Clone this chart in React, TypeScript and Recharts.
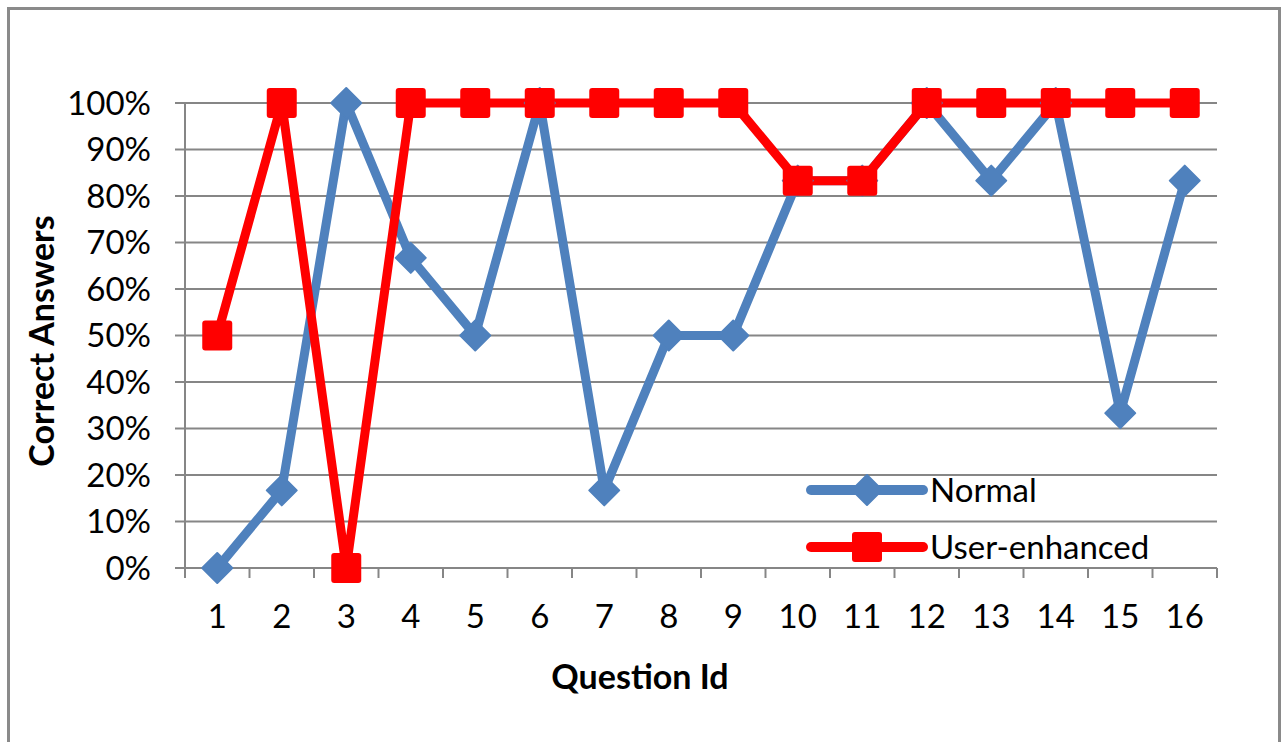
import { CartesianGrid, Legend, Line, LineChart, XAxis, YAxis } from 'recharts';

const CATEGORIES = ['1', '2', '3', '4', '5', '6', '7', '8', '9', '10', '11', '12', '13', '14', '15', '16'];
const NORMAL = [0, 16.7, 100, 66.7, 50, 100, 16.7, 50, 50, 83.3, 83.3, 100, 83.3, 100, 33.3, 83.3];
const USER_ENHANCED = [50, 100, 0, 100, 100, 100, 100, 100, 100, 83.3, 83.3, 100, 100, 100, 100, 100];
const Y_TICKS = [0, 10, 20, 30, 40, 50, 60, 70, 80, 90, 100];

const data = CATEGORIES.map((question, i) => ({
  question,
  normal: NORMAL[i],
  enhanced: USER_ENHANCED[i],
}));

const WIDTH = 1281;
const HEIGHT = 742;
const PLOT_LEFT = 185;
const PLOT_RIGHT = 1217;
const PLOT_TOP = 103;
const PLOT_BOTTOM = 568;
const Y_AXIS_W = 150;
const X_AXIS_H = 100;
const BAND = (PLOT_RIGHT - PLOT_LEFT) / CATEGORIES.length;

const BLUE = '#4F81BD';
const RED = '#FF0000';
const GRID = '#868686';
const FONT = 'Lato, sans-serif';
const TICK_SIZE = 33;
const TITLE_SIZE = 34;

function Diamond({ cx, cy, size = 15, fill = BLUE }: any) {
  if (cx == null || cy == null) return null;
  return (
    <path
      d={`M${cx},${cy - size} L${cx + size},${cy} L${cx},${cy + size} L${cx - size},${cy} Z`}
      fill={fill}
      stroke={fill}
      strokeWidth={2}
      strokeLinejoin="round"
    />
  );
}

function Square({ cx, cy, size = 15, fill = RED }: any) {
  if (cx == null || cy == null) return null;
  return <rect x={cx - size} y={cy - size} width={size * 2} height={size * 2} rx={3} fill={fill} />;
}

// category labels sit in the middle of each band, tick marks on the band edges
function QuestionTick({ x, payload, index }: any) {
  const left = x - BAND / 2;
  return (
    <g>
      <line x1={left} x2={left} y1={PLOT_BOTTOM} y2={PLOT_BOTTOM + 10} stroke={GRID} strokeWidth={2} />
      {index === CATEGORIES.length - 1 && (
        <line x1={x + BAND / 2} x2={x + BAND / 2} y1={PLOT_BOTTOM} y2={PLOT_BOTTOM + 10} stroke={GRID} strokeWidth={2} />
      )}
      <text x={x} y={628} textAnchor="middle" fill="#000" fontSize={TICK_SIZE} fontFamily={FONT}>
        {payload.value}
      </text>
    </g>
  );
}

function LegendBox() {
  const rows = [
    { name: 'Normal', color: BLUE, marker: <Diamond cx={67} cy={30} /> },
    { name: 'User-enhanced', color: RED, marker: <Square cx={67} cy={87} /> },
  ];
  return (
    <svg width={420} height={120} style={{ display: 'block' }}>
      {rows.map((r, i) => {
        const y = 30 + i * 57;
        return (
          <g key={r.name}>
            <line x1={11} x2={123} y1={y} y2={y} stroke={r.color} strokeWidth={10} strokeLinecap="round" />
            {r.marker}
            <text x={130} y={y + 12} fill="#000" fontSize={TICK_SIZE} fontFamily={FONT}>
              {r.name}
            </text>
          </g>
        );
      })}
    </svg>
  );
}

export default function App() {
  return (
    <div style={{ position: 'absolute', left: 0, top: 0, width: WIDTH, height: HEIGHT, overflow: 'hidden', background: '#fff' }}>
      <div
        style={{
          position: 'absolute',
          left: 7,
          top: 7,
          width: 1274,
          height: 800,
          border: '3px solid #8a8a8a',
          boxSizing: 'border-box',
        }}
      />
      <div style={{ position: 'absolute', left: 0, top: 0 }}>
        <LineChart
          width={WIDTH}
          height={HEIGHT}
          data={data}
          margin={{
            top: PLOT_TOP,
            right: WIDTH - PLOT_RIGHT,
            bottom: HEIGHT - PLOT_BOTTOM - X_AXIS_H,
            left: PLOT_LEFT - Y_AXIS_W,
          }}
          style={{ fontFamily: FONT }}
        >
          <CartesianGrid vertical={false} stroke={GRID} strokeWidth={2} strokeOpacity={1} />
          <XAxis
            dataKey="question"
            scale="band"
            height={X_AXIS_H}
            axisLine={{ stroke: GRID, strokeWidth: 2 }}
            tickLine={false}
            interval={0}
            tick={<QuestionTick />}
            label={{
              content: () => (
                <text x={640} y={689} textAnchor="middle" fontSize={TITLE_SIZE} fontWeight="bold" fontFamily={FONT} fill="#000">
                  Question Id
                </text>
              ),
            }}
          />
          <YAxis
            width={Y_AXIS_W}
            domain={[0, 100]}
            ticks={Y_TICKS}
            interval={0}
            tickFormatter={(v: number) => `${v}%`}
            axisLine={{ stroke: GRID, strokeWidth: 2 }}
            tickLine={{ stroke: GRID, strokeWidth: 2 }}
            tickSize={10}
            tickMargin={24}
            tick={{ fill: '#000', fontSize: TICK_SIZE, fontFamily: FONT }}
            label={{
              content: () => (
                <text
                  x={40}
                  y={341}
                  transform="rotate(-90 40 341)"
                  textAnchor="middle"
                  dominantBaseline="central"
                  fontSize={TITLE_SIZE}
                  fontWeight="bold"
                  fontFamily={FONT}
                  fill="#000"
                >
                  Correct Answers
                </text>
              ),
            }}
          />
          <Legend
            layout="vertical"
            align="center"
            verticalAlign="middle"
            wrapperStyle={{ left: 800, top: 460, width: 420 }}
            content={() => <LegendBox />}
          />
          <Line
            type="linear"
            dataKey="normal"
            name="Normal"
            stroke={BLUE}
            strokeWidth={9}
            strokeLinejoin="round"
            dot={(p: any) => <Diamond key={`n-${p.index}`} cx={p.cx} cy={p.cy} />}
            activeDot={false}
            isAnimationActive={false}
          />
          <Line
            type="linear"
            dataKey="enhanced"
            name="User-enhanced"
            stroke={RED}
            strokeWidth={9}
            strokeLinejoin="round"
            dot={(p: any) => <Square key={`e-${p.index}`} cx={p.cx} cy={p.cy} />}
            activeDot={false}
            isAnimationActive={false}
          />
        </LineChart>
      </div>
    </div>
  );
}
